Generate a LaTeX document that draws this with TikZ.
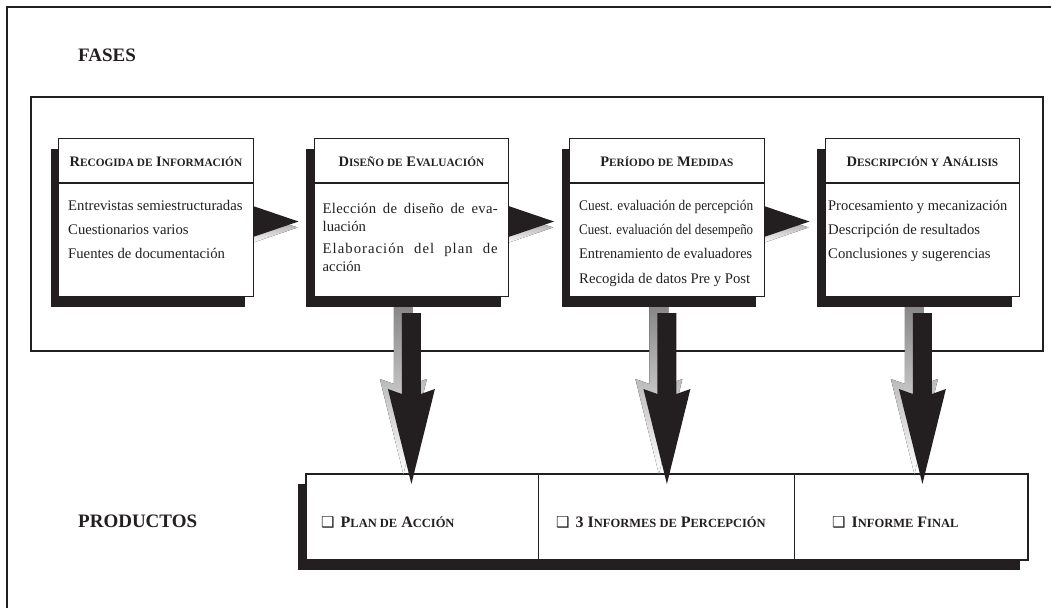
\documentclass[tikz,border=0pt]{standalone}
\usepackage{fontspec}
\setmainfont{Liberation Serif}
\newfontfamily\dingfont{DejaVu Sans}
\usepackage{graphicx}
\usetikzlibrary{calc,shadows}
\definecolor{ink}{RGB}{35,31,32}
\definecolor{shade}{RGB}{145,145,145}
\pgfdeclarelayer{back}
\pgfdeclarelayer{mid}
\pgfsetlayers{back,mid,main}
% small-capital parts of titles
\newcommand\tsm[1]{{\fontsize{11.3}{13}\selectfont #1}}
\newcommand\psm[1]{{\fontsize{12.5}{14}\selectfont #1}}
\newcommand\fitw[2]{\resizebox{#1}{\height}{#2}}
\newcommand\sqbox{{\dingfont\fontsize{15}{15}\selectfont ❑}}
\newcommand\spaced[2]{\makebox[175pt][s]{\addfontfeature{LetterSpace=#1}#2}}
\tikzset{
  boxshadow/.style={drop shadow={shadow xshift=-8pt,shadow yshift=-10pt,fill=ink,opacity=1}},
  phase/.style={draw=ink, line width=1.3pt, fill=white, anchor=north west,
    minimum width=194.5pt, minimum height=158pt, inner sep=0pt, boxshadow},
  ptitle/.style={anchor=base, inner sep=0pt, text=ink, font=\bfseries\fontsize{14.5}{16}\selectfont},
  pbody/.style={anchor=base west, inner sep=0pt, text=ink, font=\fontsize{14.7}{24}\selectfont},
  heading/.style={anchor=base west, inner sep=0pt, text=ink, font=\bfseries\fontsize{19}{22}\selectfont},
  product/.style={anchor=base west, inner sep=0pt, text=ink, font=\bfseries\fontsize{16}{18}\selectfont},
  divider/.style={draw=ink, line width=1.3pt},
  vhead/.pic={\fill[ink] (0,0) -- (-23.5,-95) -- (-9.5,-90) -- (-9.5,-171) -- (9.5,-171) -- (9.5,-90) -- (23.5,-95) -- cycle;},
  vshadow/.pic={\fill[shade] (0,0) -- (-23.5,-95) -- (-9.5,-90) -- (-9.5,-178) -- (9.5,-178) -- (9.5,-90) -- (23.5,-95) -- cycle;},
  hhead/.pic={\fill[ink] (0,0) -- (-47,-16) -- (-47,16) -- cycle;},
  hshadow/.pic={\fill[shade] (0,0) -- (-47,-16) -- (-47,16) -- cycle;},
}
\begin{document}
\begin{tikzpicture}[x=1pt,y=-1pt]
\useasboundingbox (0,0) rectangle (1051,608);

% ---- frames and the products strip (bottom layer)
\begin{pgfonlayer}{back}
  \draw[ink, line width=2.5pt] (7,608) -- (7,7) -- (1051,7);
  \node[draw=ink, line width=2pt, anchor=north west, inner sep=0pt,
        minimum width=1012pt, minimum height=254pt] (frame) at (30,96) {};
  \node[draw=ink, line width=1.5pt, fill=white, anchor=north west, inner sep=0pt,
        minimum width=722pt, minimum height=86pt, boxshadow] (pr) at (305,473) {};
  \draw[ink, line width=0.9pt] ($(pr.north west)+(233,0)$) -- ($(pr.south west)+(233,0)$);
  \draw[ink, line width=0.9pt] ($(pr.north west)+(489,0)$) -- ($(pr.south west)+(489,0)$);
\end{pgfonlayer}

\node[heading] (fases) at (78,61) {FASES};
\node[heading] (productos) at (78,527) {PRODUCTOS};

% ---- phase boxes
\node[phase] (p1) at (58,138) {};
\node[phase] (p2) at (313.5,138) {};
\node[phase] (p3) at (569,138) {};
\node[phase] (p4) at (824.5,138) {};
\foreach \p in {p1,p2,p3,p4}
  \draw[divider] ($(\p.north west)+(0,45)$) -- ($(\p.north east)+(0,45)$);

\node[ptitle] (t1) at ($(p1.north)+(0,28.5)$) {R\tsm{ECOGIDA DE} I\tsm{NFORMACIÓN}};
\node[ptitle] (t2) at ($(p2.north)+(0,28.5)$) {D\tsm{ISEÑO DE} E\tsm{VALUACIÓN}};
\node[ptitle] (t3) at ($(p3.north)+(0,28.5)$) {P\tsm{ERÍODO DE} M\tsm{EDIDAS}};
\node[ptitle] (t4) at ($(p4.north)+(0,28.5)$) {D\tsm{ESCRIPCIÓN Y} A\tsm{NÁLISIS}};

\node[pbody] (b1) at ($(p1.north west)+(10,72)$) {\parbox[t]{185pt}{\raggedright
  Entrevistas semiestructuradas\\Cuestionarios varios\\Fuentes de documentación}};
\node[pbody, font=\fontsize{14.7}{18}\selectfont] (b2) at ($(p2.north west)+(9,75)$) {\parbox[t]{175pt}{%
  \spaced{2}{Elección de diseño de eva-}\\luación\\[4pt]%
  \spaced{7}{Elaboración del plan de}\\acción}};
\node[pbody, font=\fontsize{14.7}{24.4}\selectfont] (b3) at ($(p3.north west)+(10,72)$) {\parbox[t]{185pt}{\raggedright
  \fitw{174pt}{Cuest. evaluación de percepción}\\
  \fitw{174pt}{Cuest. evaluación del desempeño}\\
  \fitw{173pt}{Entrenamiento de evaluadores}\\
  Recogida de datos Pre y Post}};
\node[pbody] (b4) at ($(p4.north west)+(3.5,72)$) {\parbox[t]{190pt}{\raggedright
  \fitw{179pt}{Procesamiento y mecanización}\\Descripción de resultados\\Conclusiones y sugerencias}};

% ---- products
\node[product] (r1) at (321,527) {\sqbox\hspace{6pt}P\psm{LAN DE} A\psm{CCIÓN}};
\node[product] (r2) at (556,527) {\sqbox\hspace{6pt}3 I\psm{NFORMES DE} P\psm{ERCEPCIÓN}};
\node[product] (r3) at (832,527) {\sqbox\hspace{6pt}I\psm{NFORME} F\psm{INAL}};

% ---- arrows between phases and down to the products
\begin{pgfonlayer}{mid}
  \foreach \a/\b in {p1/p2,p2/p3,p3/p4} {
    \coordinate (h-\a) at ($(\b.north west)+(-15,83.5)$);
    \pic at ($(h-\a)+(-1,6)$) {hshadow};
    \pic at (h-\a) {hhead};
  }
  \foreach \b in {p2,p3,p4} {
    \coordinate (v-\b) at ($(\b.south |- pr.north)+(0,11)$);
    \pic at ($(v-\b)+(-8,-10)$) {vshadow};
    \pic at (v-\b) {vhead};
  }
\end{pgfonlayer}
\end{tikzpicture}
\end{document}
